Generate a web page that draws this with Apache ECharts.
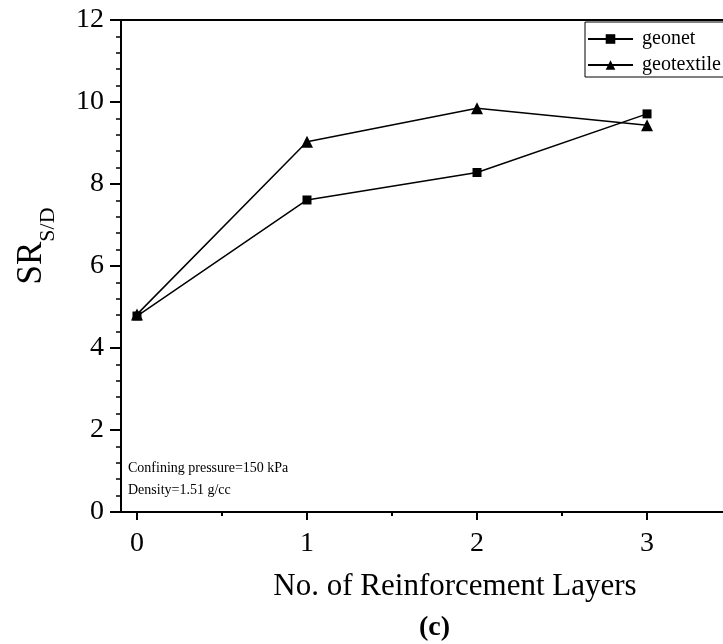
<!DOCTYPE html>
<html>
<head>
<meta charset="utf-8">
<script src="https://cdn.jsdelivr.net/npm/echarts@6/dist/echarts.min.js"></script>
<style>html,body{margin:0;padding:0;background:#fff}#c{width:723px;height:644px}</style>
</head>
<body>
<div id="c"></div>
<script>
var layers = [0, 1, 2, 3];
var geonet = [4.78, 7.61, 8.28, 9.71];
var geotextile = [4.82, 9.03, 9.85, 9.43];
var xTicks = [0, 1, 2, 3];
var xMinorTicks = [0.5, 1.5, 2.5];
var seriesNames = ['geonet', 'geotextile'];
var noteLines = ['Confining pressure=150 kPa', 'Density=1.51 g/cc'];

var FONT = 'Liberation Serif, Times New Roman, serif';
var chart = echarts.init(document.getElementById('c'), null, {renderer: 'canvas'});
function pairs(xs, ys) { return xs.map(function (x, i) { return [x, ys[i]]; }); }

chart.setOption({
  animation: false,
  backgroundColor: '#fff',
  grid: {left: 121, top: 20, width: 668, height: 492, outerBoundsMode: 'none', containLabel: false,
         show: true, borderColor: '#000', borderWidth: 2, backgroundColor: 'transparent'},
  xAxis: [{
    type: 'value', min: -0.094, max: 3.835,
    position: 'bottom',
    axisLine: {show: true, onZero: false, lineStyle: {color: '#000', width: 2}},
    axisTick: {show: true, customValues: xTicks, length: 8, lineStyle: {color: '#000', width: 2}},
    axisLabel: {show: true, customValues: xTicks, margin: 18, color: '#000', fontFamily: FONT, fontSize: 28},
    splitLine: {show: false},
    name: 'No. of Reinforcement Layers', nameLocation: 'middle', nameGap: 59,
    nameTextStyle: {color: '#000', fontFamily: FONT, fontSize: 31}
  }, {
    type: 'value', min: -0.094, max: 3.835, position: 'bottom',
    axisLine: {show: false, onZero: false},
    axisTick: {show: true, customValues: xMinorTicks, length: 4, lineStyle: {color: '#000', width: 2}},
    axisLabel: {show: false},
    splitLine: {show: false}
  }],
  yAxis: {
    type: 'value', min: 0, max: 12, interval: 2,
    axisLine: {show: true, onZero: false, lineStyle: {color: '#000', width: 2}},
    axisTick: {show: true, length: 11, lineStyle: {color: '#000', width: 2}},
    minorTick: {show: true, splitNumber: 5, length: 5, lineStyle: {color: '#000', width: 1.5}},
    axisLabel: {margin: 17, color: '#000', fontFamily: FONT, fontSize: 28},
    splitLine: {show: false},
    name: '{a|SR}{b|S/D}', nameLocation: 'middle', nameGap: 72, nameRotate: 90,
    nameTextStyle: {color: '#000', padding: [0, 0, 0, 40], rich: {
      a: {fontFamily: FONT, fontSize: 35, color: '#000'},
      b: {fontFamily: FONT, fontSize: 22, color: '#000', verticalAlign: 'bottom', padding: [0, 0, -10, 0]}
    }}
  },
  legend: {
    orient: 'vertical', left: 585, top: 22,
    borderColor: '#000', borderWidth: 1, borderRadius: 0,
    padding: [7, 20, 2, 2],
    itemWidth: 45, itemHeight: 12, itemGap: 6,
    textStyle: {color: '#000', fontFamily: FONT, fontSize: 20, padding: [0, 0, 0, 4]},
    data: seriesNames
  },
  series: [{
    name: seriesNames[0], type: 'line', data: pairs(layers, geonet),
    symbol: 'rect', symbolSize: 9,
    lineStyle: {color: '#000', width: 1.5}, itemStyle: {color: '#000'}
  }, {
    name: seriesNames[1], type: 'line', data: pairs(layers, geotextile),
    symbol: 'triangle', symbolSize: 12,
    lineStyle: {color: '#000', width: 1.5}, itemStyle: {color: '#000'}
  }],
  graphic: [
    {type: 'text', left: 128, top: 461, style: {text: noteLines[0], fill: '#000', font: '14px ' + FONT}},
    {type: 'text', left: 128, top: 483, style: {text: noteLines[1], fill: '#000', font: '14px ' + FONT}},
    {type: 'text', left: 419, top: 614, style: {text: '(c)', fill: '#000', font: 'bold 28px ' + FONT}}
  ]
});
</script>
</body>
</html>
